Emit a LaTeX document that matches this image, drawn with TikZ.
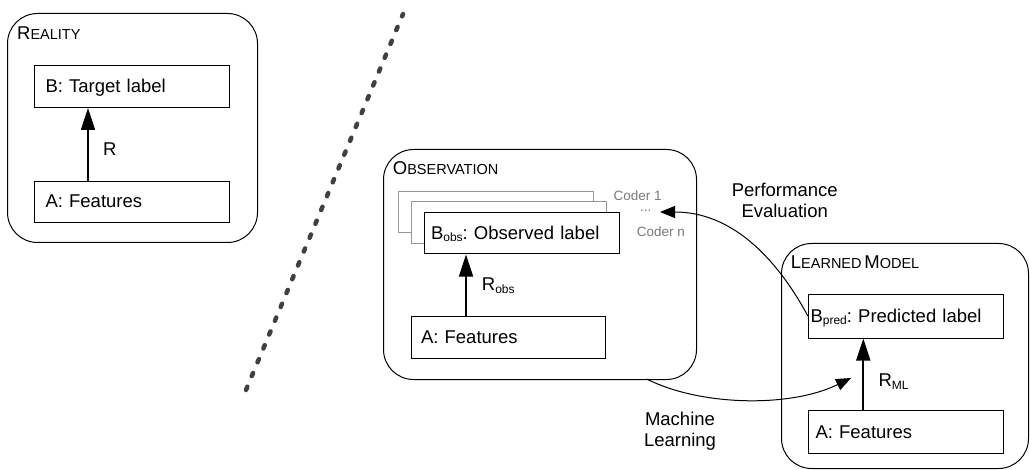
\documentclass[tikz,border=0pt]{standalone}
\usepackage{fontspec}
\setmainfont{Liberation Sans}
\usetikzlibrary{arrows.meta}
\frenchspacing
\definecolor{backgray}{RGB}{150,150,150}
\definecolor{codergray}{RGB}{120,120,120}
\definecolor{dotgray}{RGB}{64,64,64}
\newcommand{\sbt}[1]{\raisebox{-2.5pt}{\fontsize{12}{12}\selectfont #1}}
\newcommand{\capL}[1]{{\fontsize{18.5}{20}\selectfont #1}}
\newcommand{\capS}[1]{{\fontsize{14.5}{16}\selectfont #1}}
\tikzset{
  region/.style={draw=black, line width=1pt, rounded corners=30pt, anchor=north west, inner sep=0pt},
  box/.style={draw=black, line width=1pt, fill=white, anchor=north west, text height=12pt, text depth=0pt,
    align=left, font=\fontsize{18.5}{21}\selectfont\frenchspacing, inner ysep=0pt},
  backbox/.style={draw=backgray, line width=1pt, fill=white, anchor=north west, minimum width=195pt,
    minimum height=41.5pt, inner sep=0pt},
  title/.style={anchor=base west, inner sep=0pt},
  lbl/.style={font=\fontsize{18.5}{21}\selectfont, inner sep=0pt, align=center, anchor=north},
  rlbl/.style={font=\fontsize{18.5}{21}\selectfont, inner sep=0pt, anchor=base west},
  coder/.style={text=codergray, font=\fontsize{13.5}{16}\selectfont, anchor=base west, inner sep=0pt},
  rel/.style={line width=1.7pt, -{Triangle[length=22pt,width=14pt]}},
  flow/.style={line width=1pt, -{Triangle[length=15pt,width=12pt]}},
  divider/.style={draw=dotgray, line width=4.5pt, line cap=round, dash pattern=on 3.5pt off 11.5pt},
}
\begin{document}
\begin{tikzpicture}[x=1pt,y=-1pt]
\useasboundingbox (0,0) rectangle (1030,470);

% divider
\coordinate (d1) at (246,390);
\coordinate (d2) at (403,14);
\draw[divider] (d1) -- (d2);

% Reality
\node[region, minimum width=250pt, minimum height=229pt] (reality) at (7,13) {};
\node[title] (realityT) at (17,40) {\capL{R}\capS{EALITY}};
\node[box, inner xsep=11pt, text width=173pt, minimum height=42pt] (rB) at (34,65) {B: Target label};
\node[box, inner xsep=11pt, text width=173pt, minimum height=41pt] (rA) at (34,181) {A: Features};
\coordinate (rx) at (88,0);
\draw[rel] (rA.north -| rx) -- (rB.south -| rx);
\node[rlbl] (rR) at (103,155.7) {R};

% Observation
\node[region, minimum width=313pt, minimum height=230pt] (obs) at (383,149) {};
\node[title] (obsT) at (392.7,175) {\capL{O}\capS{BSERVATION}};
\node[backbox] (oB1) at (398,191) {};
\node[backbox] (oB2) at (411,201.5) {};
\node[box, inner xsep=6.5pt, text width=182pt, minimum height=41.5pt] (oB) at (424,212) {B\sbt{obs}: Observed label};
\node[coder] (c1) at (613.3,200.5) {Coder 1};
\node[coder] (cd) at (640,212) {...};
\node[coder] (cn) at (636.7,236.7) {Coder n};
\node[box, inner xsep=9.5pt, text width=175pt, minimum height=42pt] (oA) at (411,316) {A: Features};
\coordinate (ox) at (466,0);
\draw[rel] (oA.north -| ox) -- (oB.south -| ox);
\node[rlbl] (oR) at (481.7,290.7) {R\sbt{obs}};

% Learned model
\node[region, minimum width=247pt, minimum height=225pt] (lm) at (781,243) {};
\node[title] (lmT) at (790.7,268.3) {\capL{L}\capS{EARNED} \capL{M}\capS{ODEL}};
\node[box, inner xsep=2pt, text width=191pt, minimum height=43.5pt] (bp) at (808,294) {B\sbt{pred}: Predicted label};
\node[box, inner xsep=7pt, text width=181pt, minimum height=43pt] (lA) at (808,410) {A: Features};
\coordinate (lx) at (863.3,0);
\draw[rel] (lA.north -| lx) -- (bp.south -| lx);
\node[rlbl] (lR) at (878.3,386.7) {R\sbt{ML}};

% Performance evaluation
\coordinate (peEnd) at (660,212);
\draw[flow] (bp.west) .. controls (775,255) and (730,212) .. (peEnd);
\node[lbl] (pe) at (784.7,183.2) {Performance\\Evaluation};

% Machine learning
\coordinate (mlStart) at (646.7,379);
\coordinate (mlEnd) at (851,378);
\draw[flow] (mlStart) .. controls (700,406) and (790,408) .. (mlEnd);
\node[lbl] (ml) at (680,411.5) {Machine\\Learning};
\end{tikzpicture}
\end{document}
